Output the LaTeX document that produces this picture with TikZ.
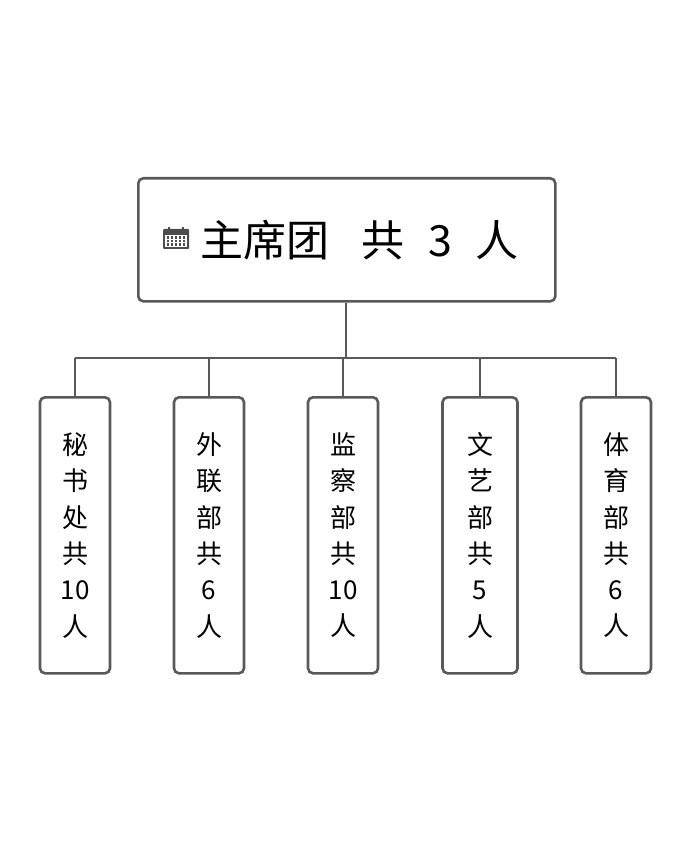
\documentclass[tikz,border=0pt]{standalone}
\usepackage{fontspec}
\setmainfont{Noto Sans CJK SC}
\begin{document}
\begin{tikzpicture}[x=1pt,y=-1pt,
 box/.style={draw=black!65,line width=2.6pt,rounded corners=5pt,fill=white},
 conn/.style={draw=black!65,line width=2.6pt},
 child/.style={box,minimum width=70pt,minimum height=276pt,anchor=north,inner sep=0pt,font=\fontsize{26}{36.3}\selectfont,align=center}]
\useasboundingbox (0,0) rectangle (696,866);
\node[box,minimum width=417pt,minimum height=123pt,anchor=north west] (top) at (137,177) {};
\node[font=\fontsize{43}{45}\selectfont,anchor=west,inner sep=0pt] (t) at (200,240) {主席团\hspace{0.75em}共\hspace{0.55em}3\hspace{0.55em}人};
\begin{scope}[shift={(163,227)}]
 \fill[black!70,rounded corners=1pt] (0,2) rectangle (26,22);
 \fill[white] (2,8) rectangle (24,20);
 \foreach \i in {0,...,4} \foreach \j in {0,1,2} \fill[black!70] (3.5+\i*4,9.5+\j*3.5) rectangle (6+\i*4,11.7+\j*3.5);
 \fill[black!70] (5,0) rectangle (7,4); \fill[black!70] (19,0) rectangle (21,4);
\end{scope}
\coordinate (j) at (346,358);
\node[child] (c1) at (75,396) {秘\\书\\处\\共\\10\\人};
\node[child] (c2) at (209,396) {外\\联\\部\\共\\6\\人};
\node[child] (c3) at (343,396) {监\\察\\部\\共\\10\\人};
\node[child,minimum width=75pt] (c4) at (480,396) {文\\艺\\部\\共\\5\\人};
\node[child] (c5) at (616,396) {体\\育\\部\\共\\6\\人};
\draw[conn] (top.south -| j) -- (j);
\draw[conn] (c1.north |- j) -- (c5.north |- j);
\foreach \c in {c1,c2,c3,c4,c5} \draw[conn] (\c.north |- j) -- (\c.north);
\end{tikzpicture}
\end{document}
